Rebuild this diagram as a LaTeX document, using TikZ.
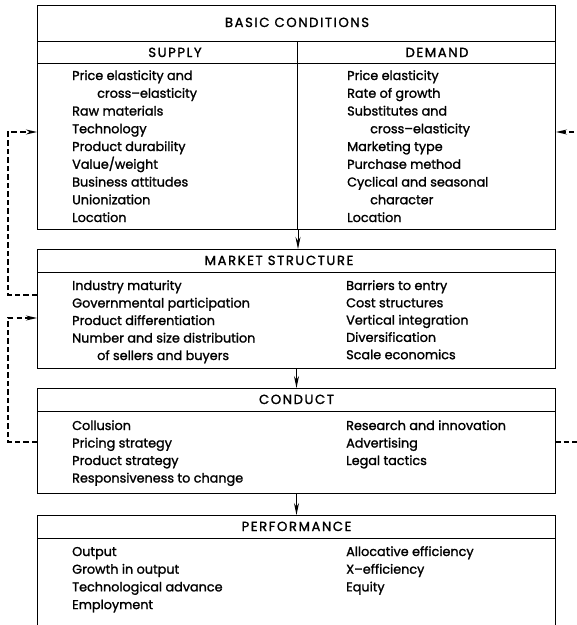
\documentclass[tikz,border=0pt]{standalone}
\usepackage{fontspec}
\setmainfont{Poppins}
\usetikzlibrary{arrows.meta,calc}
\begin{document}
\begin{tikzpicture}[x=1pt,y=-1pt,
  box/.style={draw,line width=1pt,inner sep=0pt,anchor=north west},
  rule/.style={line width=1pt},
  txt/.style={anchor=base west,inner sep=0pt,font=\fontsize{12.8}{14}\selectfont\addfontfeature{FakeBold=1.4}},
  hdr/.style={anchor=base,inner sep=0pt,font=\fontsize{13.2}{14}\selectfont\addfontfeature{FakeBold=1.4,LetterSpace=12}},
  flow/.style={line width=1pt,-{Stealth[length=12pt,width=5pt]}},
  fb/.style={line width=1.5pt,dash pattern=on 5.5pt off 3pt,-{Stealth[length=11pt,width=5pt]}}]
\useasboundingbox (0,0) rectangle (577,625);
\clip (0,0) rectangle (577,625);
% boxes
\node[box,minimum width=518pt,minimum height=224pt] (basic) at (37,5) {};
\node[box,minimum width=260pt,minimum height=188pt] (supply) at (37,41) {};
\node[box,minimum width=258pt,minimum height=188pt] (demand) at (297,41) {};
\draw[rule] (37,63) -- (555,63);
\node[box,minimum width=518pt,minimum height=119pt] (market) at (37,249) {};
\draw[rule] (37,272) -- (555,272);
\node[box,minimum width=518pt,minimum height=105pt] (conduct) at (37,388) {};
\draw[rule] (37,411) -- (555,411);
\node[box,minimum width=518pt,minimum height=130pt] (perf) at (37,515) {};
\draw[rule] (37,538) -- (555,538);
% headers
\node[hdr] (hbasic) at (297,27) {BASIC CONDITIONS};
\node[hdr] (hsupply) at (175,57) {SUPPLY};
\node[hdr] (hdemand) at (437,57) {DEMAND};
\node[hdr] (hmarket) at (279,265) {MARKET STRUCTURE};
\node[hdr] (hconduct) at (296.5,404) {CONDUCT};
\node[hdr] (hperf) at (296.5,531) {PERFORMANCE};
% lists
\foreach \t [count=\i] in {Price elasticity and,\hspace*{25pt}cross--elasticity,Raw materials,Technology,Product durability,Value/weight,Business attitudes,Unionization,Location}
  \node[txt] (s\i) at (72,80+17.75*\i-17.75) {\t};
\foreach \t [count=\i] in {Price elasticity,Rate of growth,Substitutes and,\hspace*{23pt}cross--elasticity,Marketing type,Purchase method,Cyclical and seasonal,\hspace*{23pt}character,Location}
  \node[txt] (d\i) at (347,80+17.75*\i-17.75) {\t};
\foreach \t [count=\i] in {Industry maturity,Governmental participation,Product differentiation,Number and size distribution,\hspace*{25pt}of sellers and buyers}
  \node[txt] (ml\i) at (72,290+17.5*\i-17.5) {\t};
\foreach \t [count=\i] in {Barriers to entry,Cost structures,Vertical integration,Diversification,Scale economics}
  \node[txt] (mr\i) at (346,290+17.3*\i-17.3) {\t};
\foreach \t [count=\i] in {Collusion,Pricing strategy,Product strategy,Responsiveness to change}
  \node[txt] (cl\i) at (72,430+17.5*\i-17.5) {\t};
\foreach \t [count=\i] in {Research and innovation,Advertising,Legal tactics}
  \node[txt] (cr\i) at (346,430+17.5*\i-17.5) {\t};
\foreach \t [count=\i] in {Output,Growth in output,Technological advance,Employment}
  \node[txt] (pl\i) at (72,556+17.7*\i-17.7) {\t};
\foreach \t [count=\i] in {Allocative efficiency,X--efficiency,Equity}
  \node[txt] (pr\i) at (346,556+17.7*\i-17.7) {\t};
% main flow
\draw[flow] (supply.south east) -- (supply.south east |- market.north);
\draw[flow] (market.south) -- (conduct.north);
\draw[flow] (conduct.south) -- (perf.north);
% feedback
\coordinate (fbA) at (37,295);
\coordinate (fbB) at (37,442);
\coordinate (fbC) at (555,442);
\draw[fb] (fbA) -- (8,295) -- (8,132) -- (supply.west |- 0,132);
\draw[fb] (fbB) -- (8,442) -- (8,318) -- (market.west |- 0,318);
\draw[fb] (fbC) -- (588,442) -- (588,132) -- (demand.east |- 0,132);
\end{tikzpicture}
\end{document}
